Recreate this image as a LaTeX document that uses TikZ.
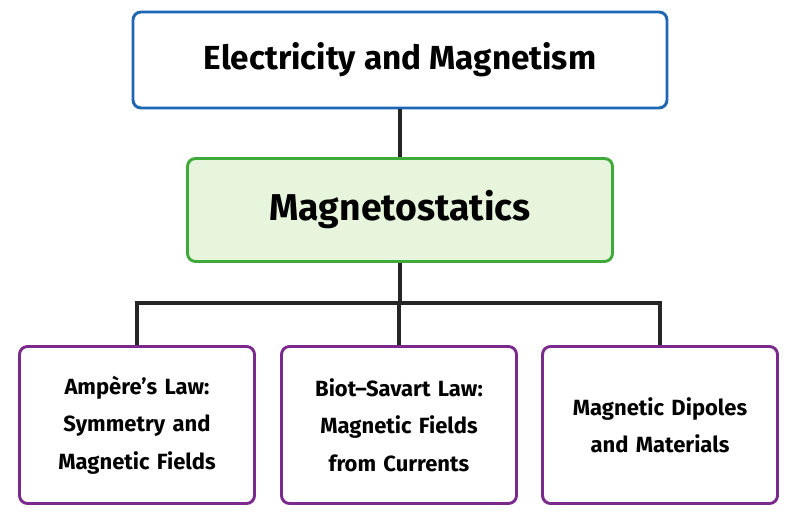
\documentclass[tikz,border=0pt]{standalone}
\usepackage{fontspec}
\setmainfont{Fira Sans}
\usetikzlibrary{positioning}
\definecolor{topblue}{HTML}{1F66B3}
\definecolor{midgreen}{HTML}{3DAA3A}
\definecolor{midfill}{HTML}{E6F5DC}
\definecolor{subpurple}{HTML}{7A2A8C}

\begin{document}
\begin{tikzpicture}[x=0.75pt,y=-0.75pt]
\tikzstyle{topic} = [rectangle, draw=topblue, line width=2.2pt, fill=white,
minimum width=534*0.75pt, minimum height=96*0.75pt, rounded corners=6pt,
font=\fontsize{25}{28}\selectfont\bfseries]
\tikzstyle{core} = [rectangle, draw=midgreen, line width=2.2pt, fill=midfill,
minimum width=425*0.75pt, minimum height=103*0.75pt, rounded corners=6pt,
font=\fontsize{28}{32}\selectfont\bfseries]
\tikzstyle{sub} = [rectangle, draw=subpurple, line width=2.2pt, fill=white,
minimum width=235*0.75pt, minimum height=157*0.75pt, rounded corners=6pt,
text width=215*0.75pt, align=center,
font=\fontsize{16.5}{28}\selectfont\bfseries]
\tikzstyle{line} = [draw, line width=2.4pt, black!85];
\useasboundingbox (0,0) rectangle (800,516);
% boxes
\node [topic] (em) at (400,60) {Electricity and Magnetism};
\node [core] (ms) at (400,210) {Magnetostatics};
\node [sub] (ampere) at (137,425) {Ampère’s Law:\\ Symmetry and\\ Magnetic Fields};
\node [sub] (biot) at (399,425) {Biot–Savart Law:\\ Magnetic Fields\\ from Currents};
\node [sub] (dipole) at (660,425) {Magnetic Dipoles\\ and Materials};
\coordinate (bus) at (ms.south |- 0,303);
% connectors
\tikzstyle{every path}=[line]
\path (em) -- (ms);
\path (ms) -- (bus);
\path (ampere.north) |- (bus) -| (dipole.north);
\path (bus) -| (biot.north);
\end{tikzpicture}
\end{document}
